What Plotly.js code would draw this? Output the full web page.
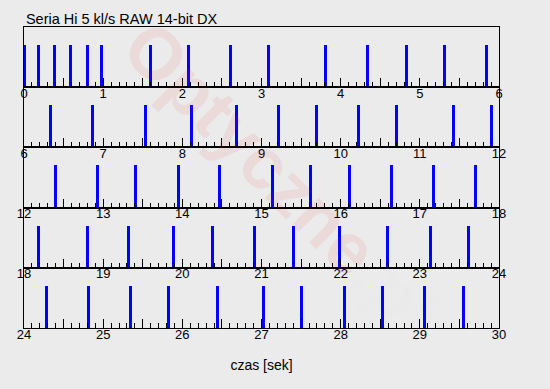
<!DOCTYPE html>
<html>
<head>
<meta charset="utf-8">
<script src="https://cdn.plot.ly/plotly-3.0.1.min.js"></script>
<style>html,body{margin:0;padding:0;background:#ebebeb;}</style>
</head>
<body>
<div id="chart" style="width:550px;height:389px;"></div>
<script>
// Event times (seconds) of each captured frame
const frameTimes = [
  0.00, 0.18, 0.39, 0.59, 0.80, 0.98, 1.60, 2.08, 2.61, 3.09, 3.81, 4.34, 4.83, 5.31, 5.84,
  6.33, 6.86, 7.53, 8.12, 8.69, 9.21, 9.69, 10.23, 10.71, 11.42, 11.91,
  12.40, 12.93, 13.41, 13.95, 14.47, 15.14, 15.62, 16.11, 16.64, 17.17, 17.70,
  18.18, 18.80, 19.32, 19.89, 20.38, 20.91, 21.41, 21.98, 22.59, 23.13, 23.61,
  24.28, 24.81, 25.35, 25.83, 26.45, 27.03, 27.51, 28.05, 28.53, 29.06, 29.55
];
const rowSpan = 6;          // seconds per row
const rowCount = 5;
const titleText = 'Seria Hi 5 kl/s RAW 14-bit DX';
const xTitle = 'czas [sek]';

const FONT = 'Liberation Sans, Arial, sans-serif';
const traces = [];
const layout = {
  width: 550, height: 389,
  paper_bgcolor: '#ebebeb', plot_bgcolor: '#ebebeb',
  margin: {l: 24, r: 51, t: 27, b: 61},
  showlegend: false,
  bargap: 0,
  font: {family: FONT, color: '#000', size: 13},
  title: {text: titleText, font: {family: FONT, size: 14.5, color: '#000'},
          xref: 'paper', x: 0.004, xanchor: 'left', yref: 'container', y: 1 - 19/389, yanchor: 'middle'},
  annotations: [{
    text: 'Optyczne<span style="color:rgba(120,120,120,0.08)">.pl</span>',
    xref: 'paper', yref: 'paper', x: 0.54, y: 0.5, showarrow: false,
    textangle: 45, font: {family: 'Liberation Sans, Arial', size: 72, color: 'rgba(230,30,30,0.08)', weight: 'bold'}
  }]
};

for (let r = 0; r < rowCount; r++) {
  const lo = r * rowSpan, hi = lo + rowSpan;
  const xs = frameTimes.filter(t => t >= lo && t < hi);
  const ax = r === 0 ? '' : String(r + 1);
  traces.push({
    type: 'bar', x: xs, y: xs.map(() => 1), width: 0.038,
    marker: {color: '#0000ff', line: {width: 0}},
    xaxis: 'x' + ax, yaxis: 'y' + ax, hoverinfo: 'x'
  });
  const tv = [], tt = [];
  for (let i = 0; i <= rowSpan * 2; i++) {
    const v = lo + i * 0.5;
    tv.push(v);
    tt.push(i % 2 === 0 ? String(v) : '');
  }
  const top = 1 - r / rowCount, bot = 1 - (r + 1) / rowCount;
  layout['xaxis' + ax] = {
    domain: [0, 1], anchor: 'y' + ax, range: [lo, hi],
    tickmode: 'array', tickvals: tv, ticktext: tt,
    ticks: 'inside', ticklen: 9, tickwidth: 1, tickcolor: '#000',
    ticklabelstandoff: -6,
    minor: {ticks: 'inside', ticklen: 5, tickwidth: 1, tickcolor: '#000', tick0: 0, dtick: 0.1, showgrid: false},
    showline: true, linecolor: '#000', linewidth: 1, mirror: true,
    showgrid: false, zeroline: false, fixedrange: true,
    tickfont: {family: FONT, size: 13, color: '#000'},
    title: r === rowCount - 1 ? {text: xTitle, font: {family: FONT, size: 14, color: '#000'}, standoff: 19} : {text: ''}
  };
  layout['yaxis' + ax] = {
    domain: [bot, top], anchor: 'x' + ax, range: [0, 1 / 0.7],
    showticklabels: false, ticks: '', showgrid: false, zeroline: false,
    showline: true, linecolor: '#000', linewidth: 1, mirror: true, fixedrange: true
  };
}

Plotly.newPlot('chart', traces, layout, {displayModeBar: false, staticPlot: true});
</script>
</body>
</html>
